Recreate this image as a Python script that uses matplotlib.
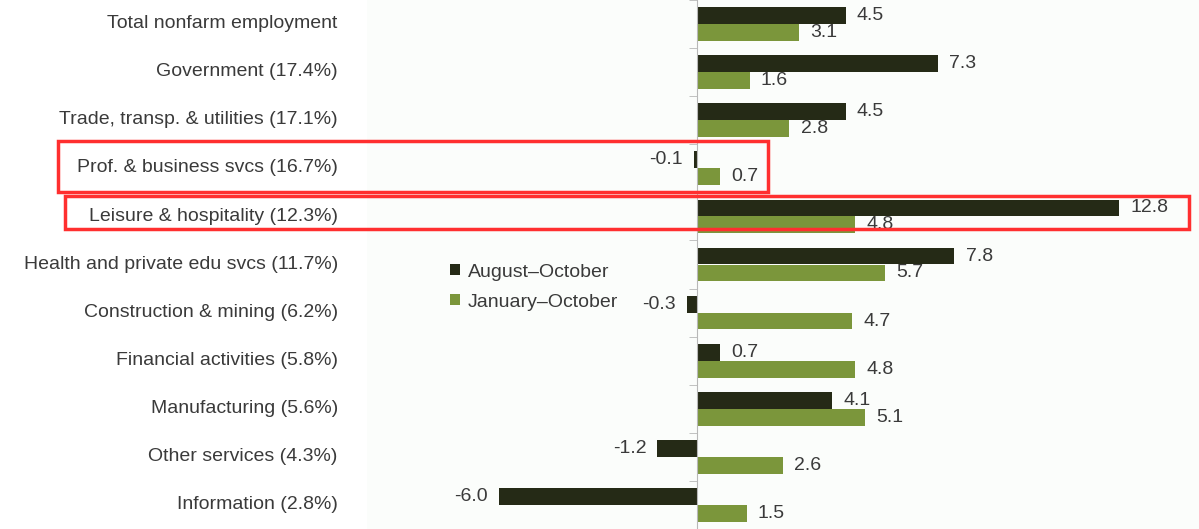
import matplotlib
matplotlib.use("Agg")
import matplotlib.pyplot as plt
from matplotlib.patches import Rectangle
import numpy as np

# ------------------------------------------------
# Data
# ------------------------------------------------
categories = [
    "Total nonfarm employment",
    "Government (17.4%)",
    "Trade, transp. & utilities (17.1%)",
    "Prof. & business svcs (16.7%)",
    "Leisure & hospitality (12.3%)",
    "Health and private edu svcs (11.7%)",
    "Construction & mining (6.2%)",
    "Financial activities (5.8%)",
    "Manufacturing (5.6%)",
    "Other services (4.3%)",
    "Information (2.8%)",
]
aug_oct = [4.5, 7.3, 4.5, -0.1, 12.8, 7.8, -0.3, 0.7, 4.1, -1.2, -6.0]
jan_oct = [3.1, 1.6, 2.8, 0.7, 4.8, 5.7, 4.7, 4.8, 5.1, 2.6, 1.5]
series_names = ["August\u2013October", "January\u2013October"]

# highlighted rows: (category, x from, x to, y offset top, y offset bottom)
highlights = [
    ("Prof. & business svcs (16.7%)", -19.35, 2.15, -0.57, 0.50),
    ("Leisure & hospitality (12.3%)", -19.15, 14.9, -0.42, 0.27),
]

DARK = "#252a16"
GREEN = "#7b963b"
TEXT = "#3a3a3a"

plt.rcParams["font.family"] = ["Liberation Sans", "DejaVu Sans"]
plt.rcParams["font.size"] = 14

fig = plt.figure(figsize=(11.99, 5.29), dpi=100, facecolor="white")
ax = fig.add_axes([367 / 1199, 0, 832 / 1199, 1])
ax.set_facecolor("#fbfdfb")

y = np.arange(len(categories))
h = 0.35
ax.barh(y - h / 2, aug_oct, height=h, color=DARK, label=series_names[0])
ax.barh(y + h / 2, jan_oct, height=h, color=GREEN, label=series_names[1])

xmin, xmax = -10.0, 15.21
ax.set_xlim(xmin, xmax)
ax.set_ylim(len(categories) - 0.535, -0.465)

# value labels
for vals, off in ((aug_oct, -h / 2), (jan_oct, h / 2)):
    for yi, v in zip(y, vals):
        ax.annotate(f"{v:.1f}", (v, yi + off),
                    xytext=(8 if v >= 0 else -8, 0), textcoords="offset points",
                    ha="left" if v >= 0 else "right", va="center",
                    color=TEXT, fontsize=14)

# zero axis with small ticks between groups
for s in ("top", "right", "bottom"):
    ax.spines[s].set_visible(False)
ax.spines["left"].set_position(("data", 0))
ax.spines["left"].set_color("#b8b8b8")
ax.set_xticks([])
ax.set_yticks(y)
ax.set_yticks(np.arange(-0.5, len(categories) + 0.5), minor=True)
ax.tick_params(axis="y", which="major", length=0, labelleft=False)
ax.tick_params(axis="y", which="minor", length=6, color="#b8b8b8", direction="out")

# category labels on the left
sec = ax.secondary_yaxis("left")
sec.set_yticks(y - 0.05, labels=categories)
sec.spines["left"].set_visible(False)
sec.tick_params(length=0, pad=21, labelcolor=TEXT, labelsize=14)

ax.legend(loc="center left", bbox_to_anchor=(0.1, 0.457), frameon=False,
          handlelength=0.5, handleheight=0.5, handletextpad=0.4,
          labelspacing=0.68, borderaxespad=0, borderpad=0, fontsize=14,
          labelcolor=TEXT)

# red highlight boxes
for name, x0, x1, t, b in highlights:
    yc = categories.index(name)
    ax.add_patch(Rectangle((x0, yc + t), x1 - x0, b - t, fill=False,
                           edgecolor="#ff2f2f", linewidth=2.5, clip_on=False,
                           zorder=5))

fig.savefig("out.png", dpi=100, facecolor="white")
